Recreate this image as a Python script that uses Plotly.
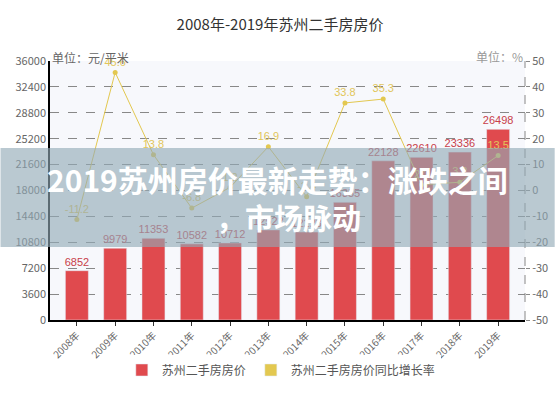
import plotly.graph_objects as go

years = ["2008年", "2009年", "2010年", "2011年", "2012年", "2013年",
         "2014年", "2015年", "2016年", "2017年", "2018年", "2019年"]
prices = [6852, 9979, 11353, 10582, 10712, 12522, 12223, 16355, 22128, 22610, 23336, 26498]
growth = [-11.2, 45.6, 13.8, -6.8, 1.2, 16.9, -2.4, 33.8, 35.3, 2.2, 3.2, 13.5]
left_ticks = [0, 3600, 7200, 10800, 14400, 18000, 21600, 25200, 28800, 32400, 36000]
right_ticks = [-50, -40, -30, -20, -10, 0, 10, 20, 30, 40, 50]

title = "2008年-2019年苏州二手房房价"
name_price = "苏州二手房房价"
name_growth = "苏州二手房房价同比增长率"
banner1 = "2019苏州房价最新走势：涨跌之间"
banner2 = "，市场脉动"

RED = "#E04A4E"
YEL = "#E3C850"
FONT = "Noto Sans CJK SC, Liberation Sans, sans-serif"

fig = go.Figure()
fig.add_trace(go.Bar(
    x=years, y=prices, name=name_price, marker_color=RED, width=0.6,
    text=[str(v) for v in prices], textposition="outside", constraintext="none",
    textfont=dict(color="#C8404A", size=11, family="Liberation Sans"),
    cliponaxis=False, yaxis="y",
))
# legend swatch for the growth series (square like the reference)
fig.add_trace(go.Bar(
    x=years, y=[None] * len(years), name=name_growth, marker_color=YEL,
    yaxis="y2", showlegend=True,
))
fig.add_trace(go.Scatter(
    x=years, y=growth, name=name_growth, mode="lines+markers+text",
    line=dict(color=YEL, width=1), marker=dict(color=YEL, size=5),
    text=[str(v) for v in growth], textposition="top center",
    textfont=dict(color="#E2C65A", size=11, family="Liberation Sans"),
    yaxis="y2", showlegend=False, cliponaxis=False,
))

fig.update_layout(
    width=560, height=396,
    margin=dict(l=50, r=30, t=61, b=76),
    paper_bgcolor="white", plot_bgcolor="#F7F8FC",
    font=dict(family=FONT, color="#666666", size=11),
    title=dict(text=title, x=0.5, xanchor="center", y=1 - 25 / 396, yanchor="middle",
               font=dict(size=15, color="#333333", family=FONT)),
    bargap=0.4, barmode="overlay",
    showlegend=True,
    legend=dict(orientation="h", x=0.487, xanchor="center", y=-0.193, yanchor="middle",
                font=dict(size=12, color="#555555"), itemwidth=30, traceorder="normal"),
    xaxis=dict(type="category", tickangle=-45, showgrid=False,
               showline=True, linecolor="black", linewidth=1.5,
               ticks="outside", ticklen=4, tickcolor="#333333",
               tickfont=dict(size=10, color="#666666")),
    yaxis=dict(range=[0, 36000], tickvals=left_ticks, ticktext=[str(v) for v in left_ticks],
               showgrid=True, gridcolor="#888888", griddash="dash", gridwidth=1,
               showline=True, linecolor="black", linewidth=1.5, zeroline=False,
               ticks="", tickfont=dict(size=11, color="#666666")),
    yaxis2=dict(range=[-50, 50], tickvals=right_ticks, ticktext=[str(v) for v in right_ticks],
                overlaying="y", side="right", showgrid=False, zeroline=False,
                showline=False, ticks="outside", ticklen=4, tickcolor="#888888",
                tickfont=dict(size=11, color="#666666")),
)

# dashed right axis line
fig.add_shape(type="line", xref="paper", yref="paper", x0=1, x1=1, y0=0, y1=1,
              line=dict(color="#888888", width=1, dash="dash"))

fig.add_annotation(text="单位：元/平米", xref="paper", yref="paper", x=0.0, y=(320 - 57) / 259,
                   xanchor="left", yanchor="middle", showarrow=False,
                   font=dict(size=12, color="#666666"))
fig.add_annotation(text="单位：%", xref="paper", yref="paper", x=1.0, y=(320 - 56) / 259,
                   xanchor="right", yanchor="middle", showarrow=False,
                   font=dict(size=12, color="#999999"))

# overlay banner
fig.add_shape(type="rect", xref="paper", yref="paper", layer="above",
              x0=-50 / 480, x1=510 / 480, y0=(320 - 247) / 259, y1=(320 - 148) / 259,
              fillcolor="rgba(145,169,182,0.63)", line=dict(width=0))
fig.add_annotation(text="<b>" + banner1 + "</b>", xref="paper", yref="paper",
                   x=(280 - 50) / 480, y=(320 - 179) / 259, xanchor="center", yanchor="middle",
                   showarrow=False, font=dict(size=30, color="white", family=FONT))
fig.add_annotation(text="<b>" + banner2 + "</b>", xref="paper", yref="paper",
                   x=(291 - 50) / 480, y=(320 - 217) / 259, xanchor="center", yanchor="middle",
                   showarrow=False, font=dict(size=29, color="white", family=FONT))

fig.write_html("out.html", post_script="document.body.style.margin='0';",
               config={"displayModeBar": False})
